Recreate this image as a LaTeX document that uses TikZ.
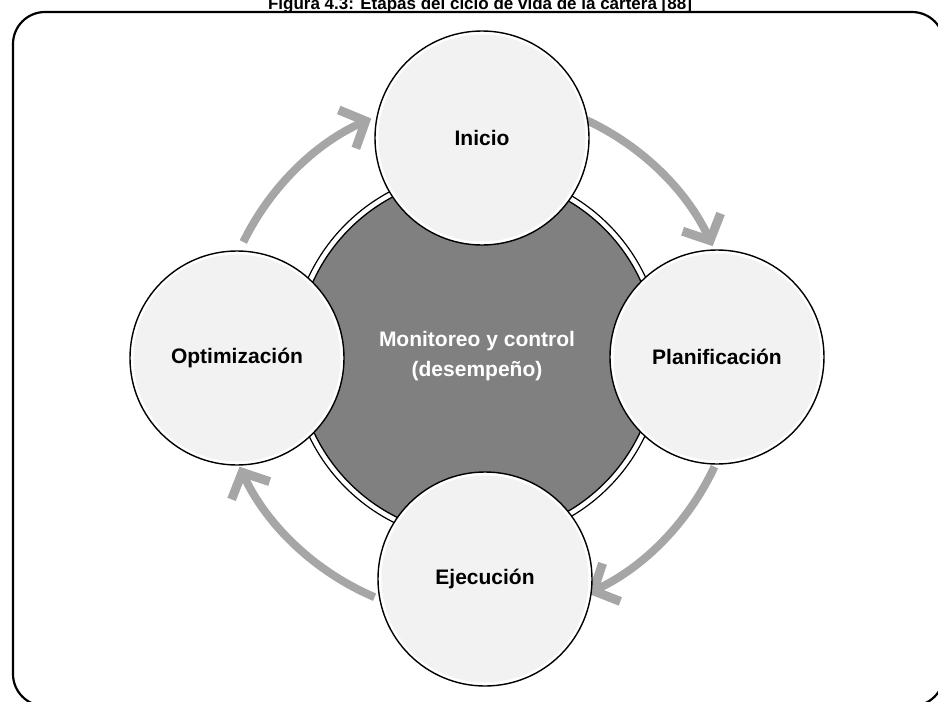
\documentclass[tikz,border=0pt]{standalone}
\usepackage{fontspec}
\setmainfont{Liberation Sans}
\usetikzlibrary{arrows.meta}
\definecolor{satfill}{HTML}{F2F2F2}
\definecolor{hubfill}{HTML}{808080}
\definecolor{flowc}{HTML}{A6A6A6}
\begin{document}
\begin{tikzpicture}[x=1pt,y=1pt,
  stage/.style={circle, draw=black, line width=1.4pt, fill=white,
    minimum size=214pt, inner sep=0pt, text=black,
    font=\fontsize{21}{26}\selectfont\bfseries,
    path picture={\fill[satfill] (path picture bounding box.center) circle[radius=103.5];}},
  hub/.style={circle, draw=black, line width=1.2pt, fill=white,
    minimum size=372pt, inner sep=0pt, text=white, align=center,
    font=\fontsize{21}{30}\selectfont\bfseries,
    path picture={\filldraw[fill=hubfill, draw=black, line width=1.3pt]
      (path picture bounding box.center) circle[radius=180];}},
  flow/.style={draw=flowc, line width=8pt,
    -{Straight Barb[length=20pt, width=42pt, line width=9pt, sharp]}},
  frame/.style={draw=black, line width=2.2pt, rounded corners=32pt},
  caption/.style={font=\fontsize{17}{20}\selectfont\bfseries, anchor=base}
]
\useasboundingbox (0,0) rectangle (938,-702);
\clip (0,0) rectangle (938,-702);

% outer rounded frame and caption
\draw[frame] (13,-12) rectangle (944,-706);
\node[caption] (title) at (480,-9) {Figura 4.3: Etapas del ciclo de vida de la cartera [88]};

% central hub
\node[hub] (hub) at (477,-356) {Monitoreo y control\\(desempeño)};

% cycle arrows around the hub
\draw[flow] ([shift={(154:260)}]hub.center) arc[start angle=154, end angle=114, radius=260];
\draw[flow] ([shift={(65:260)}]hub.center) arc[start angle=65, end angle=25, radius=260];
\draw[flow] ([shift={(-25:262)}]hub.center) arc[start angle=-25, end angle=-65, radius=262];
\draw[flow] ([shift={(-113:262)}]hub.center) arc[start angle=-113, end angle=-155, radius=262];

% stages of the cycle
\node[stage] (inicio) at (482,-138) {Inicio};
\node[stage] (plan) at (717,-357) {Planificación};
\node[stage] (ejec) at (485,-579) {Ejecución};
\node[stage] (optim) at (237,-358) {Optimización};
\end{tikzpicture}
\end{document}
